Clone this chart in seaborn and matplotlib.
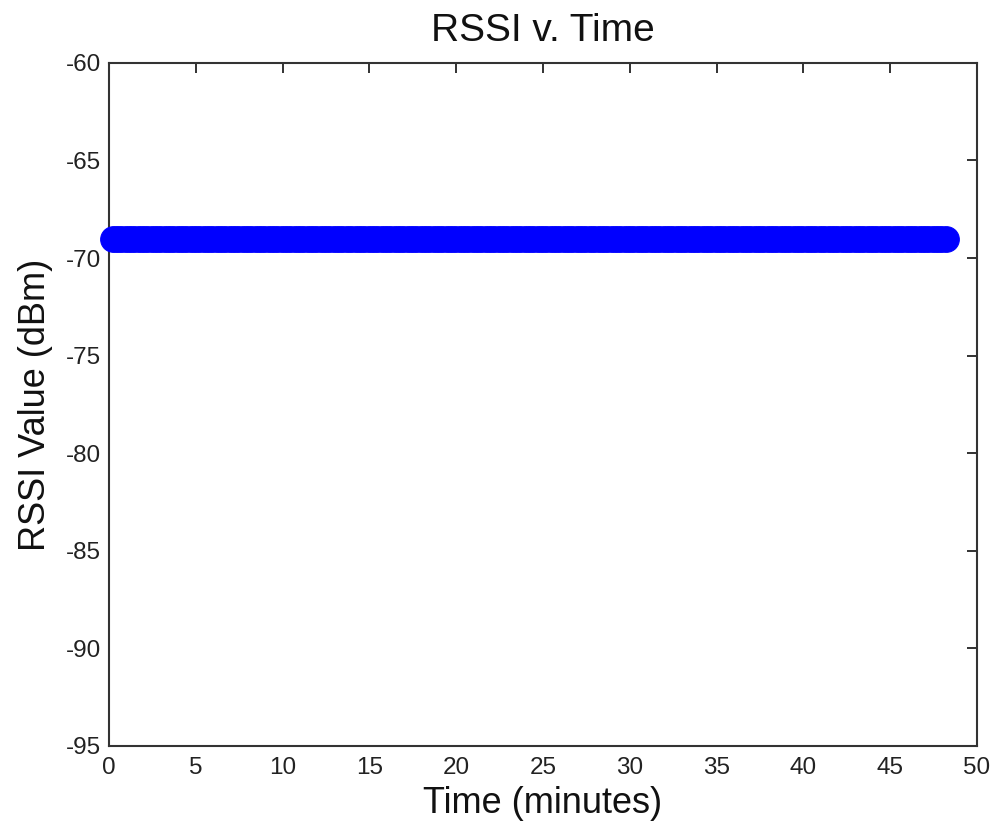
import numpy as np
import pandas as pd
import matplotlib
matplotlib.use("Agg")
import matplotlib.pyplot as plt
import seaborn as sns

# ===================== Data =====================
# readings sampled at a regular interval, signal stayed flat the whole time
t_start = 0.2      # minutes
t_end = 48.3       # minutes
t_step = 0.25      # minutes between samples
rssi_level = -69   # dBm

time_min = np.arange(t_start, t_end + t_step / 2, t_step)
rssi = np.full(len(time_min), rssi_level)

df = pd.DataFrame({"time": time_min, "rssi": rssi})

xticks = [0, 5, 10, 15, 20, 25, 30, 35, 40, 45, 50]
yticks = [-95, -90, -85, -80, -75, -70, -65, -60]

# ===================== Plot =====================
sns.set_style("white")
plt.rcParams["font.family"] = ["Liberation Sans", "DejaVu Sans"]
plt.rcParams["axes.unicode_minus"] = False  # plain hyphen like the original

fig = plt.figure(figsize=(9.93, 8.31), dpi=100)
ax = fig.add_axes([0.1098, 0.1023, 0.874, 0.822])

sns.lineplot(data=df, x="time", y="rssi", ax=ax, color="blue", linewidth=1,
             marker="o", markersize=18.5, markerfacecolor="blue",
             markeredgecolor="blue", clip_on=False, zorder=3)

ax.set_xlim(0, 50)
ax.set_ylim(-95, -60)
ax.set_xticks(xticks)
ax.set_yticks(yticks)
ax.tick_params(direction="in", length=7, width=1.3, top=True, right=True,
               labelsize=17.5, colors="#222222")
ax.tick_params(axis="x", pad=8)
ax.tick_params(axis="y", pad=6)
for s in ax.spines.values():
    s.set_color("#333333")
    s.set_linewidth(1.5)

ax.set_title("RSSI v. Time", fontsize=28, pad=16, color="#111111")
ax.set_xlabel("Time (minutes)", fontsize=26, labelpad=5, color="#111111")
ax.set_ylabel("RSSI Value (dBm)", fontsize=26, labelpad=9, color="#111111")

plt.savefig("out.png", dpi=100)
